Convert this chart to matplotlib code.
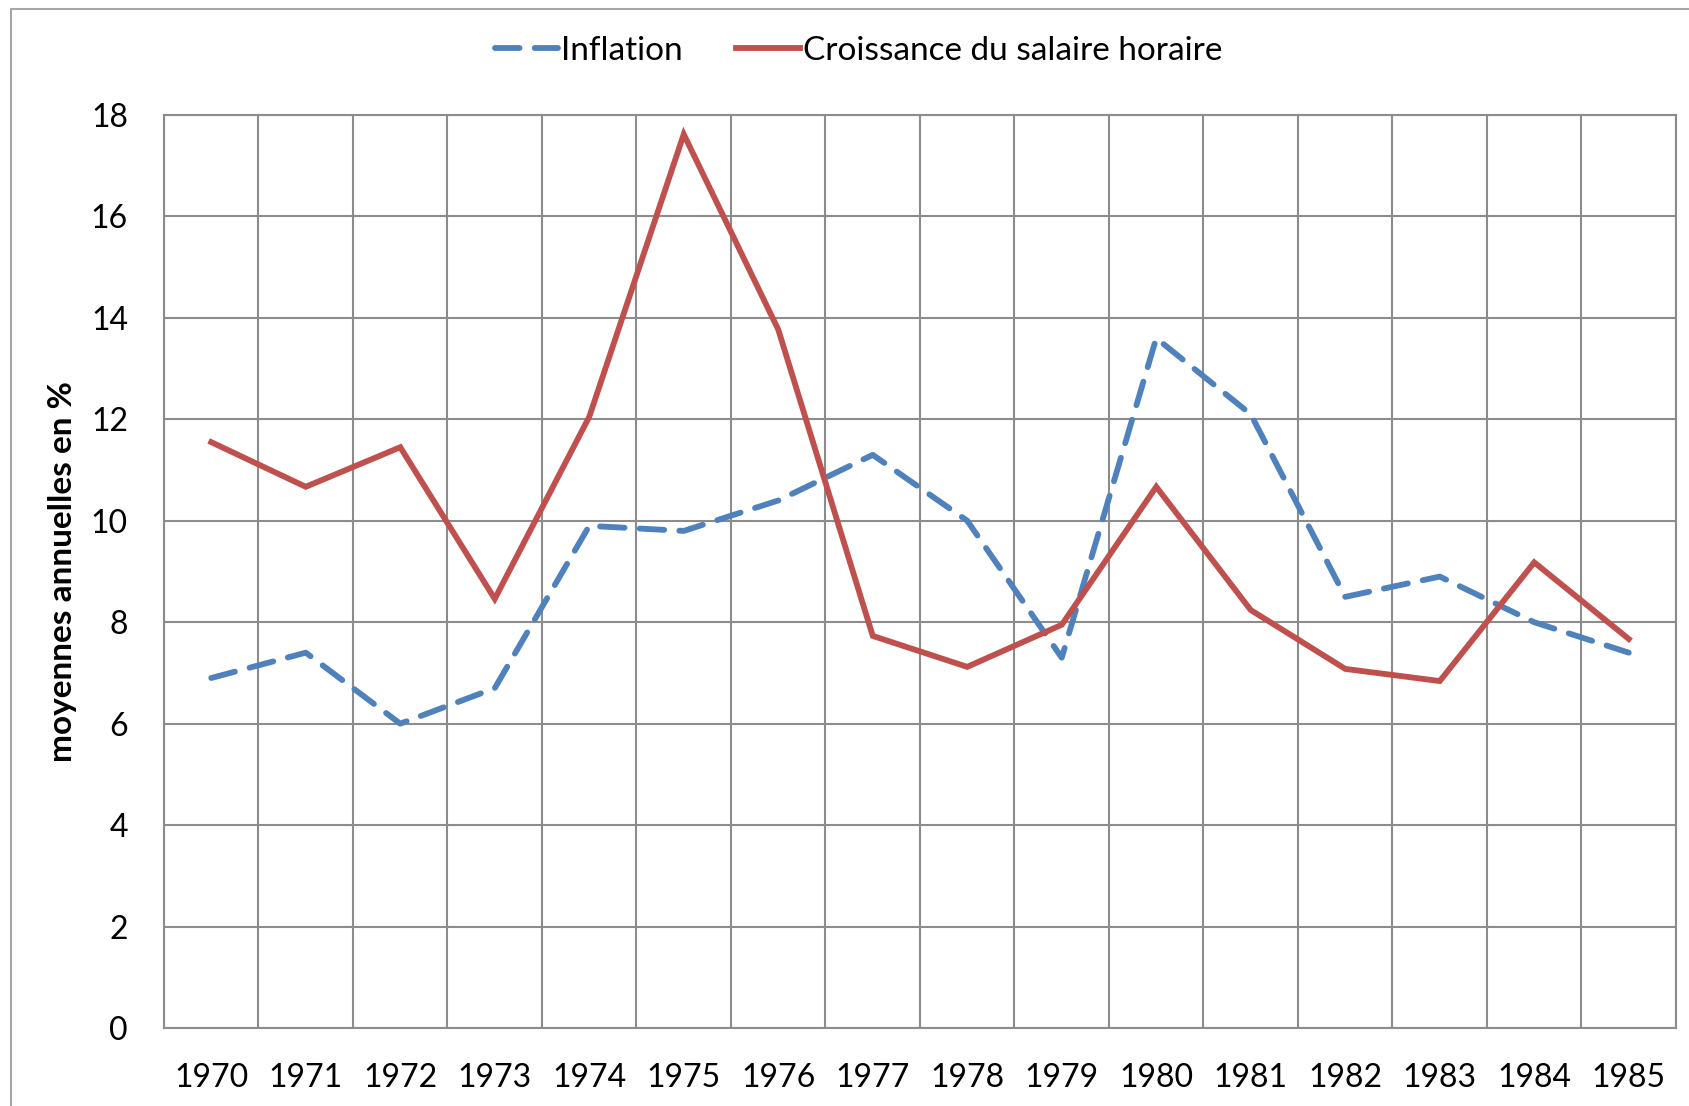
import numpy as np
import matplotlib
matplotlib.use("Agg")
import matplotlib.pyplot as plt
from matplotlib.patches import Rectangle

plt.rcParams['font.family'] = ['Lato', 'DejaVu Sans']

# Data
years = ['1970', '1971', '1972', '1973', '1974', '1975', '1976', '1977',
         '1978', '1979', '1980', '1981', '1982', '1983', '1984', '1985']
inflation = [6.9, 7.4, 6.0, 6.7, 9.9, 9.8, 10.4, 11.3,
             10.0, 7.3, 13.6, 12.1, 8.5, 8.9, 8.0, 7.4]
salaire = [11.55, 10.67, 11.45, 8.46, 12.05, 17.62, 13.77, 7.73,
           7.12, 7.95, 10.67, 8.24, 7.08, 6.84, 9.18, 7.67]
y_ticks = [0, 2, 4, 6, 8, 10, 12, 14, 16, 18]

grid_col = '#8c8c8c'

fig = plt.figure(figsize=(16.9, 11.06), dpi=100)
ax = fig.add_axes([164 / 1690, 1 - 1028 / 1106, (1676 - 164) / 1690, (1028 - 115) / 1106])

# outer chart border (cropped on right and bottom)
fig.patches.append(Rectangle((11 / 1690, -0.5), 2.0, 0.5 + (1 - 9 / 1106),
                             transform=fig.transFigure, fill=False,
                             edgecolor='#a6a6a6', linewidth=1.5, zorder=0))

x = np.arange(len(years))
ax.plot(x, inflation, color='#4F81BD', linewidth=4.2, dashes=(4.2, 2.6),
        dash_capstyle='round', label='Inflation', zorder=3)
ax.plot(x, salaire, color='#C0504D', linewidth=4.2, solid_joinstyle='miter',
        label='Croissance du salaire horaire', zorder=4)

ax.set_xlim(-0.5, len(years) - 0.5)
ax.set_ylim(0, 18)
ax.set_xticks(x)
ax.set_xticklabels(years)
ax.set_xticks(np.arange(len(years) + 1) - 0.5, minor=True)
ax.set_yticks(y_ticks)
ax.grid(True, which='minor', axis='x', color=grid_col, linewidth=1.5)
ax.grid(True, which='major', axis='y', color=grid_col, linewidth=1.5)
ax.tick_params(which='both', length=0)
ax.tick_params(axis='x', labelsize=23, pad=25)
ax.tick_params(axis='y', labelsize=23, pad=26)
for s in ax.spines.values():
    s.set_color(grid_col)
    s.set_linewidth(1.5)

ax.set_ylabel('moyennes annuelles en %', fontsize=24, fontweight='bold', labelpad=10)

fig.legend(loc='center', bbox_to_anchor=(0.508, 1 - 51 / 1106), ncol=2,
           frameon=False, fontsize=24, handlelength=1.9, handletextpad=0.1,
           columnspacing=1.6)

fig.savefig('out.png', dpi=100)
